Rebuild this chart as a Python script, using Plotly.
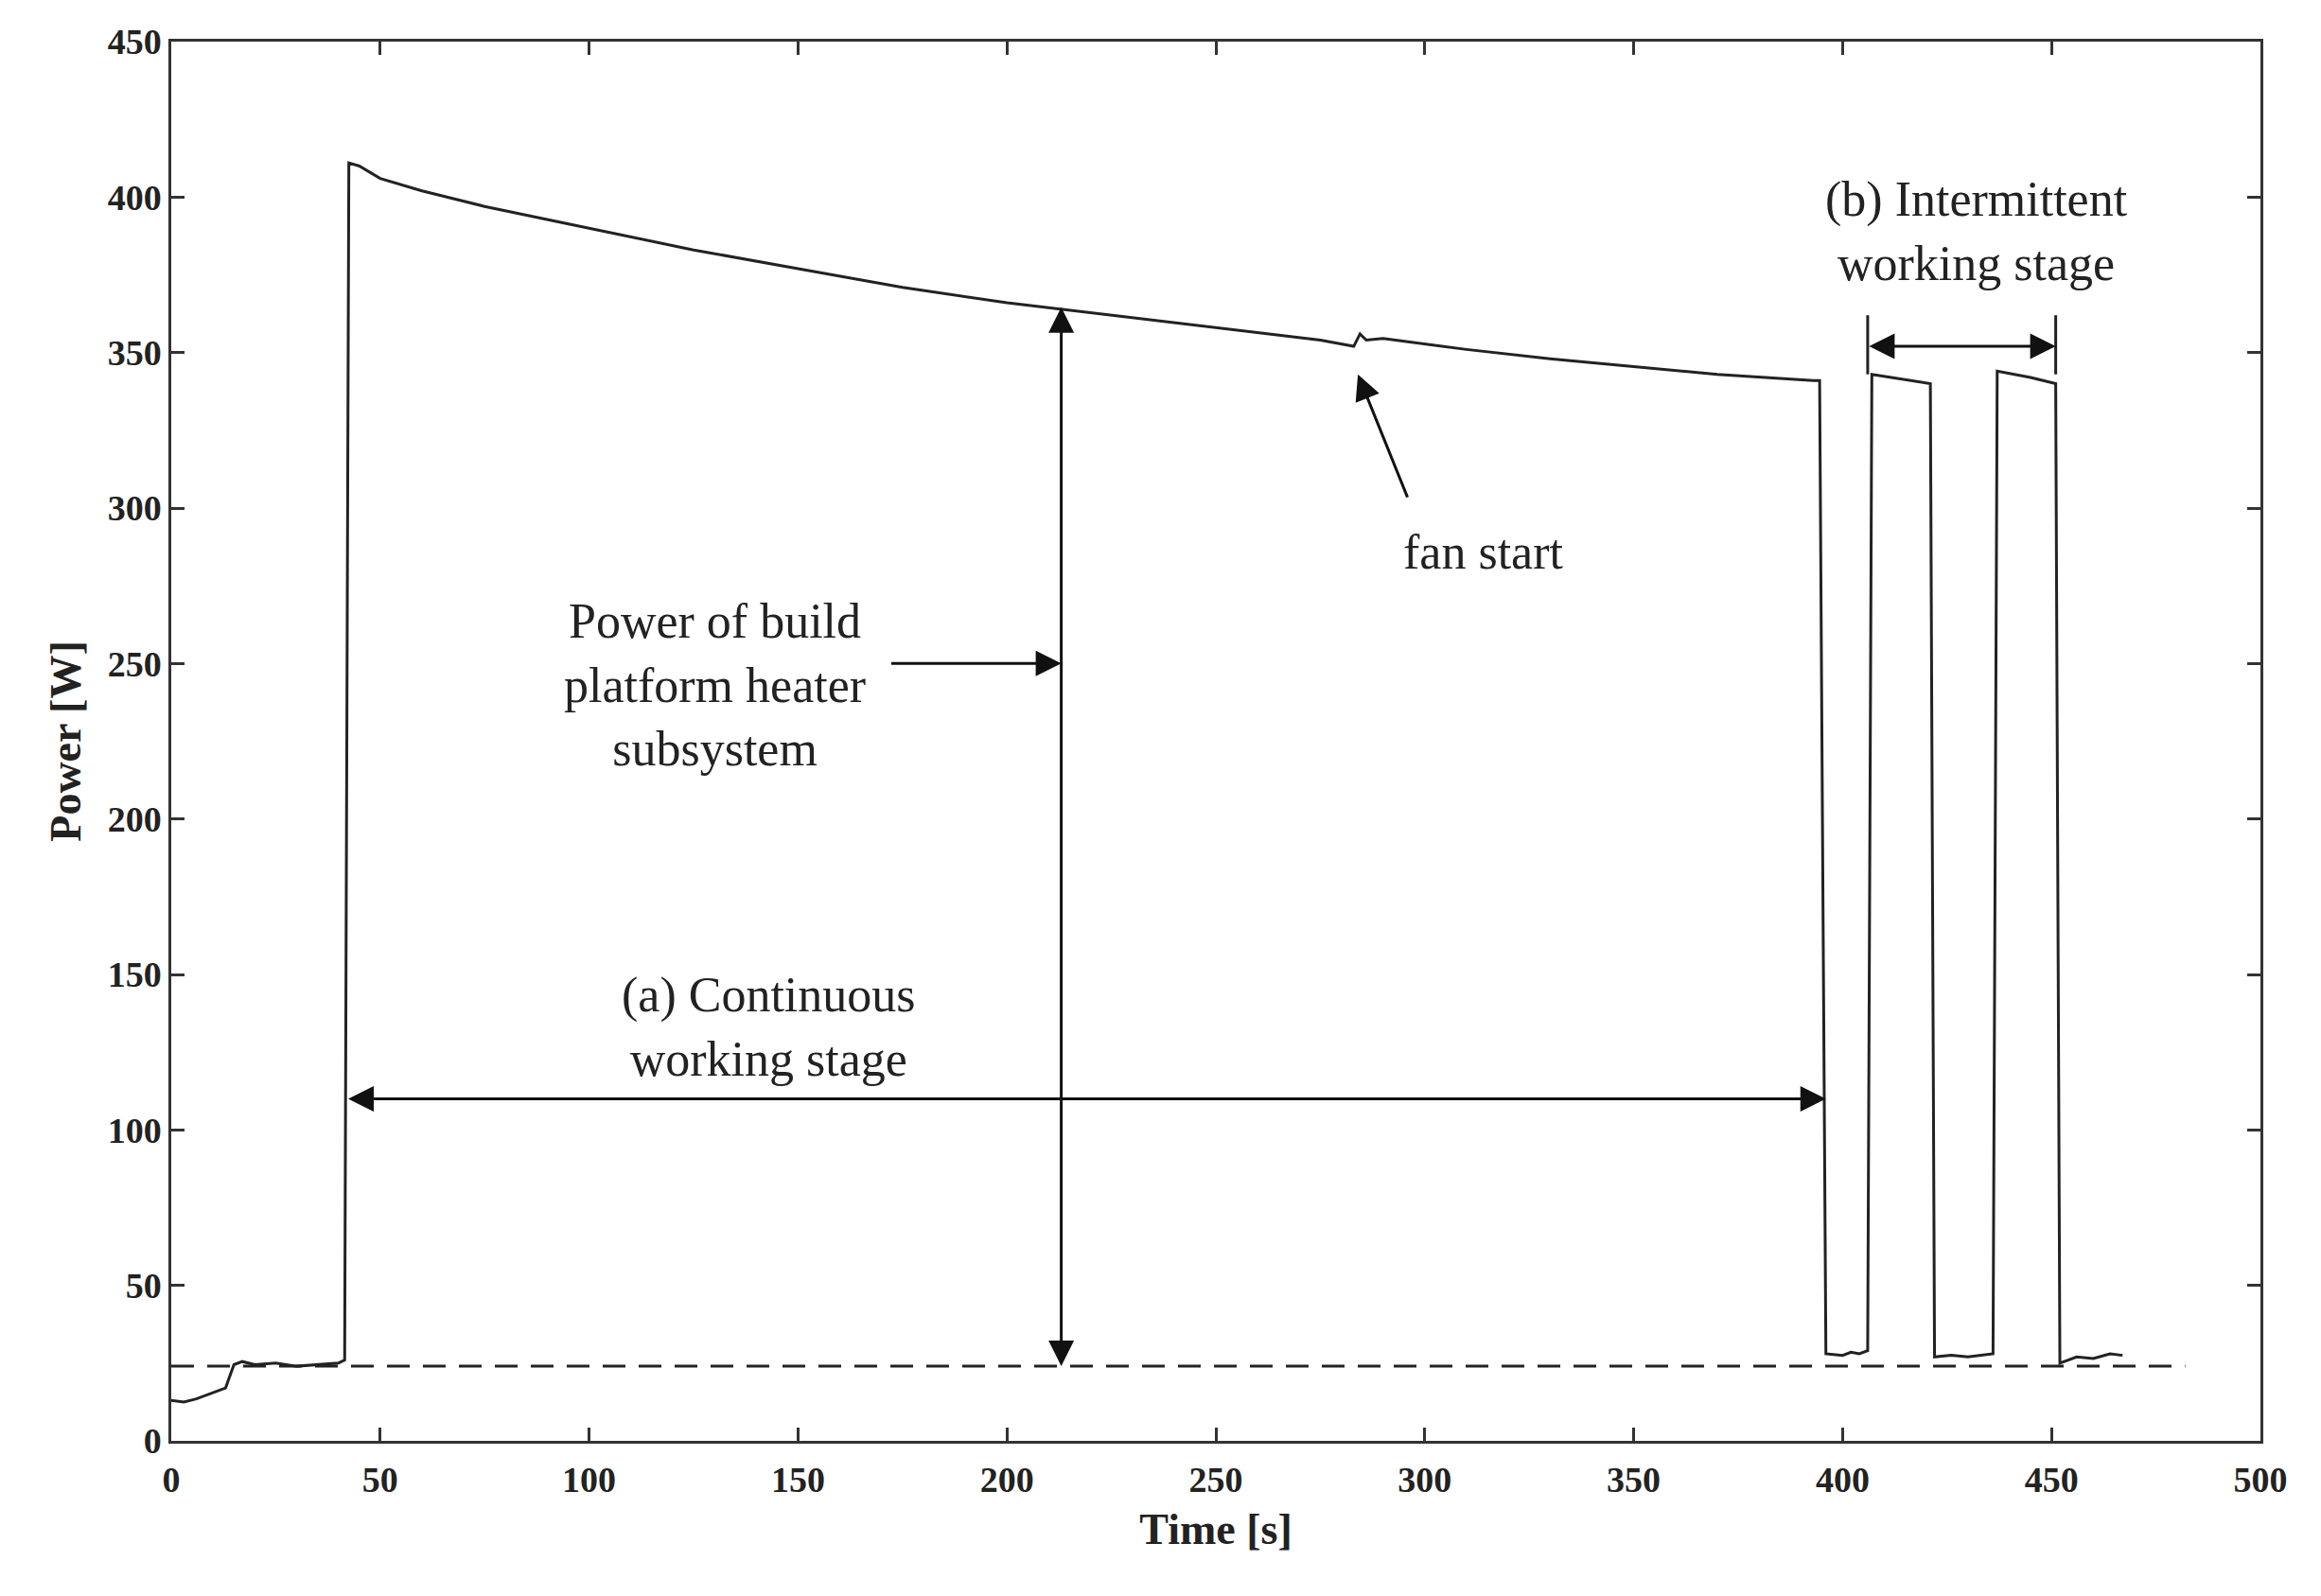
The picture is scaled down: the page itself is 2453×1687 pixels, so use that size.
import plotly.graph_objects as go

time_s = [0, 3, 6, 9, 11, 13, 15, 17, 20, 25, 30, 35, 40, 41.5, 42.5, 45, 50, 60, 75, 100, 125, 150, 175, 200, 225, 250, 275, 283, 284.5, 286, 290, 310, 330, 350, 370, 393, 394.5, 396, 400, 402, 404, 406, 407, 421, 422, 426, 430, 436, 437, 445, 451, 452, 456, 460, 464, 467]
power_w = [13, 12.5, 13.5, 15, 16, 17, 24.5, 25.5, 24.5, 25, 24, 24.5, 25, 26, 411, 410, 406, 402, 397, 390, 383, 377, 371, 366, 362, 358, 354, 352, 356, 354, 354.5, 351, 348, 345.5, 343, 341, 341, 28, 27.5, 28.5, 28, 29, 343, 340, 27, 27.5, 27, 28, 344, 342, 340, 25, 27, 26.5, 28, 27.5]
baseline_x = [0, 482]
baseline_y = [24, 24]
xticks = list(range(0, 501, 50))
yticks = list(range(0, 451, 50))

serif = "Liberation Serif"
fig = go.Figure()
fig.add_trace(go.Scatter(x=time_s, y=power_w, mode="lines", line=dict(color="#222", width=3), showlegend=False))
fig.add_trace(go.Scatter(x=baseline_x, y=baseline_y, mode="lines", line=dict(color="#222", width=3, dash="24px,14px"), showlegend=False))
for xv in (406, 451):
    fig.add_trace(go.Scatter(x=[xv, xv], y=[343, 362], mode="lines", line=dict(color="#222", width=3), showlegend=False))

def arrow(x, y, ax, ay, both=False):
    fig.add_annotation(x=x, y=y, ax=ax, ay=ay, xref="x", yref="y", axref="x", ayref="y",
                       showarrow=True, arrowhead=2, arrowsize=1.8, arrowwidth=3, arrowcolor="#111",
                       arrowside="end+start" if both else "end", text="", startarrowhead=2, startarrowsize=1.8)

arrow(396, 110, 42, 110, both=True)
arrow(213, 24, 213, 365, both=True)
arrow(213, 250, 172, 250)
arrow(284, 343, 296, 303)
arrow(451, 352, 406, 352, both=True)

tf = dict(family=serif, size=52, color="#222")
fig.add_annotation(x=143, y=133, text="(a) Continuous<br>working stage", showarrow=False, font=tf, xref="x", yref="y")
fig.add_annotation(x=130, y=243, text="Power of build<br>platform heater<br>subsystem", showarrow=False, font=tf, xref="x", yref="y")
fig.add_annotation(x=314, y=286, text="fan start", showarrow=False, font=tf, xref="x", yref="y")
fig.add_annotation(x=432, y=389, text="(b) Intermittent<br>working stage", showarrow=False, font=tf, xref="x", yref="y")

tickf = dict(family=serif, size=38, color="#222", weight="bold")
ax_common = dict(showgrid=False, zeroline=False, showline=True, linecolor="#333", linewidth=2.5,
                 mirror="ticks", ticks="inside", ticklen=14, tickwidth=2.5, tickcolor="#333",
                 tickfont=tickf)
titf = dict(family=serif, size=46, color="#222")
fig.update_xaxes(range=[0, 500], tickvals=xticks, ticklabelstandoff=6, title=dict(text="<b>Time [s]</b>", font=titf, standoff=16), **ax_common)
fig.update_yaxes(range=[0, 450], tickvals=yticks, title=dict(text="<b>Power [W]</b>", font=titf, standoff=14), **ax_common)
fig.update_layout(width=2453, height=1687, plot_bgcolor="white", paper_bgcolor="white",
                  margin=dict(l=173, r=72, t=36, b=172))
fig.write_html("out.html")
